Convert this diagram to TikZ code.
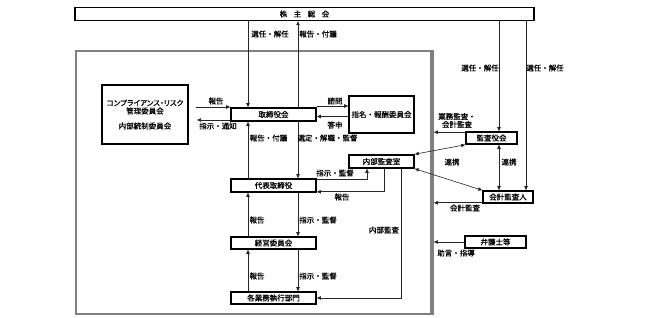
\documentclass[tikz,border=0pt]{standalone}
\usepackage{fontspec}
\setmainfont{Noto Sans CJK JP}[FakeBold=0.6]
\newfontfamily\propfont{Noto Sans CJK JP}[RawFeature=+palt,FakeBold=0.6]
\usetikzlibrary{arrows.meta}
\begin{document}
\begin{tikzpicture}[x=1pt,y=-1pt,
  every node/.style={font=\fontsize{7.5}{8}\selectfont, inner sep=0pt},
  box/.style={draw=black, line width=1.6pt, fill=white, align=center},
  link/.style={draw=black!85, line width=0.6pt},
  arr/.style={link, -{Triangle[length=4pt,width=3.4pt]}},
  arrb/.style={link, {Triangle[length=4pt,width=3.4pt]}-{Triangle[length=4pt,width=3.4pt]}},
  tofr/.style={arr, shorten >=1.8pt}]
\useasboundingbox (0,0) rectangle (646,318);
% company frame
\node[draw=gray, line width=2pt, minimum width=355pt, minimum height=263pt] (frame) at (253.5,182.5) {};
\draw[gray, line width=3.5pt] (frame.north east) -- (frame.south east);
% boxes
\node[box, line width=1.5pt, minimum width=459pt, minimum height=13pt] (kabu) at (304.5,14) {株\hspace{6.5pt}主\hspace{6.5pt}総\hspace{6.5pt}会};
\node[box, minimum width=86pt, minimum height=59pt] (comp) at (145,114.5) {{\propfont コンプライアンス・リスク}\\管理委員会\\[7pt]内部統制委員会};
\node[box, minimum width=85pt, minimum height=13pt] (tori) at (273.5,114.5) {取締役会};
\node[box, minimum width=65pt, minimum height=37pt] (shimei) at (381.5,114.5) {指名・報酬委員会};
\node[box, minimum width=65pt, minimum height=13pt] (naibu) at (381.5,161.5) {内部監査室};
\node[box, minimum width=85pt, minimum height=13pt] (daihyo) at (273.5,185.5) {代表取締役};
\node[box, minimum width=85pt, minimum height=12pt] (keiei) at (273.5,243) {経営委員会};
\node[box, minimum width=85pt, minimum height=12pt] (kaku) at (273.5,298) {各業務執行部門};
\node[box, minimum width=51pt, minimum height=12pt] (kansa) at (491.5,138) {監査役会};
\node[box, minimum width=50pt, minimum height=12pt] (kaikei) at (508,197) {会計監査人};
\node[box, minimum width=61pt, minimum height=12pt] (bengo) at (495.5,242) {弁護士等};
% helper coordinates
\coordinate (cL) at (248,0);
\coordinate (cR) at (298,0);
\coordinate (cA) at (367,0);
\coordinate (cB) at (384,0);
\coordinate (cC) at (401,0);
\coordinate (cK) at (499,0);
\coordinate (cM) at (526,0);
\coordinate (rep) at (196,107);
\coordinate (ins) at (197,120);
% connectors: main column
\draw[arr] (kabu.south -| cL) -- (tori.north -| cL);
\draw[arr] (tori.north -| cR) -- (kabu.south -| cR);
\draw[arr] (daihyo.north -| cL) -- (tori.south -| cL);
\draw[arr] (tori.south -| cR) -- (daihyo.north -| cR);
\draw[arr] (keiei.north -| cL) -- (daihyo.south -| cL);
\draw[arr] (daihyo.south -| cR) -- (keiei.north -| cR);
\draw[arr] (kaku.north -| cL) -- (keiei.south -| cL);
\draw[arr] (keiei.south -| cR) -- (kaku.north -| cR);
% compliance
\draw[arr] (rep) -- (rep -| tori.west);
\draw[arr] (ins -| tori.west) -- (ins);
% nomination committee
\draw[arr] ([yshift=8.5pt]tori.east) -- ([yshift=8.5pt]tori.east -| shimei.west);
\draw[arr] ([yshift=-2pt]shimei.west) -- ([yshift=-2pt]shimei.west -| tori.east);
% internal audit
\draw[arr] ([yshift=-1pt]daihyo.north east) -| (cA |- naibu.south);
\draw[arr] (cB |- naibu.south) |- ([yshift=1pt]daihyo.south east);
\draw[arr] (cC |- naibu.south) |- (kaku.east);
% auditors
\draw[arrb] (kansa.south west) -- (naibu.north east);
\draw[arrb] (naibu.south east) -- (kaikei.north west);
\draw[arrb] (kansa.south -| cK) -- (kaikei.north -| cK);
\draw[arr] (kabu.south -| cK) -- (kansa.north -| cK);
\draw[arr] (kabu.south -| cM) -- (kaikei.north -| cM);
\draw[tofr] ([yshift=-1pt]kansa.north west) -- ([yshift=-1pt]kansa.north west -| frame.east);
\draw[tofr] ([yshift=1pt]kaikei.south west) -- ([yshift=1pt]kaikei.south west -| frame.east);
\draw[tofr] (bengo.west) -- (bengo.west -| frame.east);
% labels
\node (t1) at (270,34) {選任・解任};
\node (t2) at (318,34) {報告・付議};
\node (t3) at (216,101) {報告};
\node (t4) at (218,126) {指示・通知};
\node (t5) at (335,101) {諮問};
\node (t6) at (335,125) {答申};
\node (t7) at (268.5,138) {報告・付議};
\node (t8) at (327.5,138) {選定・解職・監督};
\node[align=center] (t9) at (457,120.5) {業務監査・\\会計監査};
\node (t10) at (480,68) {選任・解任};
\node (t11) at (545,68) {選任・解任};
\node (t12) at (335,173) {指示・監督};
\node (t13) at (342,197) {報告};
\node (t14) at (452,162) {連携};
\node (t15) at (509,162) {連携};
\node (t16) at (465,208) {会計監査};
\node (t17) at (384,230) {内部監査};
\node (t18) at (257,220) {報告};
\node (t19) at (318,220) {指示・監督};
\node (t20) at (257,276) {報告};
\node (t21) at (318,276) {指示・監督};
\node (t22) at (456,253) {助言・指導};
\end{tikzpicture}
\end{document}
